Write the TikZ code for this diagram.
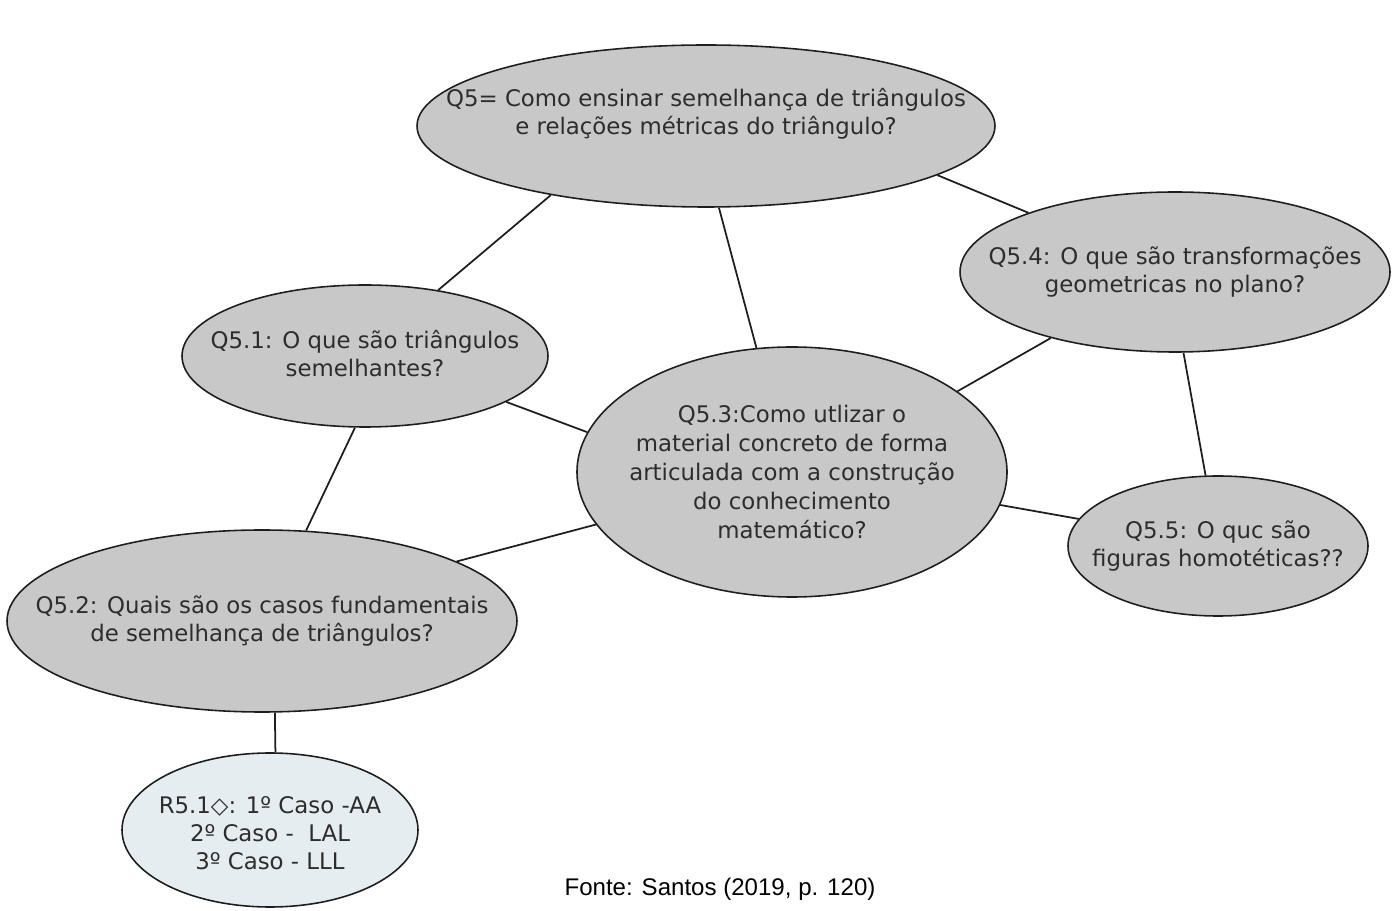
\documentclass[tikz,border=0pt]{standalone}
\usepackage{fontspec}
\setmainfont{DejaVu Sans}
\newfontfamily\captionfont{Liberation Sans}
\usetikzlibrary{shapes.geometric}
\definecolor{bubblegray}{RGB}{200,200,200}
\definecolor{answerblue}{RGB}{230,237,241}
\definecolor{inkline}{RGB}{30,30,30}
\definecolor{inktext}{RGB}{45,45,45}
\tikzset{
  bubble/.style={ellipse, draw=inkline, line width=0.9pt, fill=bubblegray,
    inner sep=0pt},
  answer/.style={bubble, fill=answerblue},
  says/.style={align=center, text=inktext, inner sep=0pt,
    font=\fontsize{13}{16}\selectfont},
  link/.style={draw=inkline, line width=1pt}
}
\begin{document}
\begin{tikzpicture}[x=0.02cm, y=-0.02cm]
  \useasboundingbox (0,0) rectangle (1393,911);

  % question bubbles (fixed outline, text laid on top)
  \node[bubble, minimum width=578*0.02cm, minimum height=162*0.02cm,
    label={[says, yshift=0.24cm]center:Q5= Como ensinar semelhança de triângulos\\e relações métricas do triângulo?}]
    (q5) at (706,126) {};
  \node[bubble, minimum width=366*0.02cm, minimum height=142*0.02cm,
    label={[says, yshift=0.05cm]center:Q5.1: O que são triângulos\\semelhantes?}]
    (q51) at (365,356) {};
  \node[bubble, minimum width=510*0.02cm, minimum height=182*0.02cm,
    label={[says]center:Q5.2: Quais são os casos fundamentais\\de semelhança de triângulos?}]
    (q52) at (262,621) {};
  \node[bubble, minimum width=430*0.02cm, minimum height=250*0.02cm,
    label={[says, font=\fontsize{13}{16.5}\selectfont]center:Q5.3:Como utlizar o\\material concreto de forma\\articulada com a construção\\do conhecimento\\matemático?}]
    (q53) at (792,472) {};
  \node[bubble, minimum width=430*0.02cm, minimum height=160*0.02cm,
    label={[says]center:Q5.4: O que são transformações\\geometricas no plano?}]
    (q54) at (1175,272) {};
  \node[bubble, minimum width=300*0.02cm, minimum height=140*0.02cm,
    label={[says]center:Q5.5: O quc são\\figuras homotéticas??}]
    (q55) at (1218,546) {};

  % answer bubble
  \node[answer, minimum width=296*0.02cm, minimum height=154*0.02cm,
    label={[says, yshift=-0.06cm]center:R5.1◇: 1º Caso -AA\\2º Caso -\ \ LAL\\3º Caso - LLL}]
    (r51) at (270,830) {};

  % connections
  \draw[link] (q5.204)  -- (q51.42);
  \draw[link] (q5.279)  -- (q53.106);
  \draw[link] (q5.-12)  -- (q54.158);
  \draw[link] (q54.208) -- (q53.26);
  \draw[link] (q54.-84) -- (q55.100);
  \draw[link] (q51.-18) -- (q53.169);
  \draw[link] (q51.262) -- (q52.64);
  \draw[link] (q52.17)  -- (q53.195);
  \draw[link] (q53.-9)  -- (q55.169);
  \draw[link] (q52.-82) -- (r51.86);

  % source line
  \node[font=\captionfont\fontsize{13.7}{16}\selectfont, text=black] (fonte) at (720,889)
    {Fonte: Santos (2019, p. 120)};
\end{tikzpicture}
\end{document}
